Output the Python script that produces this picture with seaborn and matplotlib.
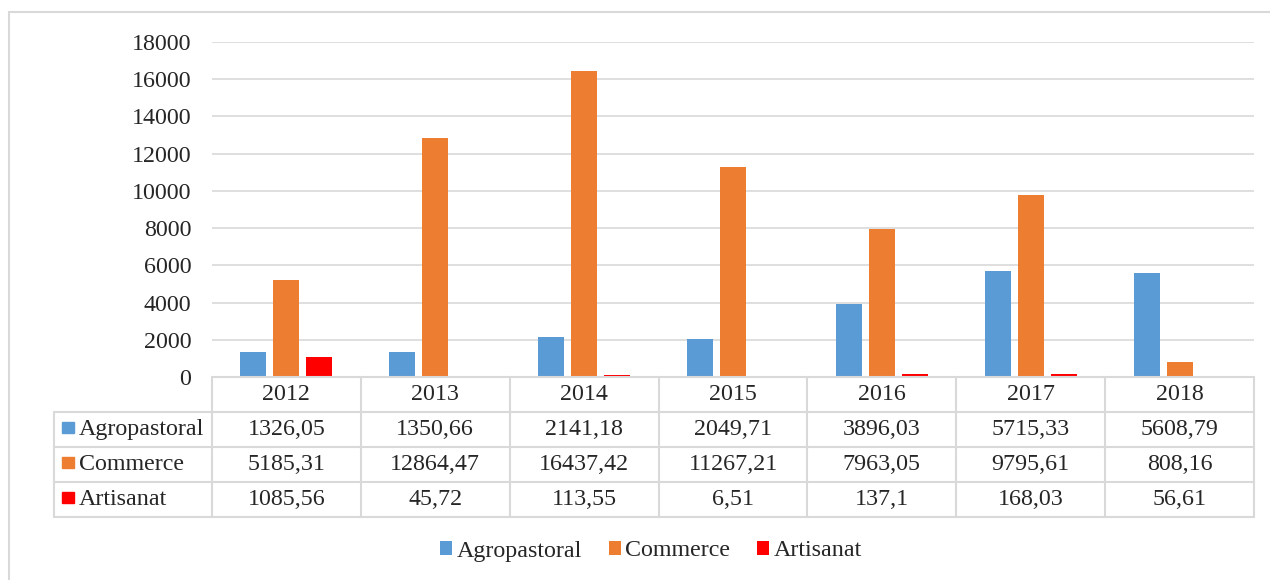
import numpy as np
import pandas as pd
import matplotlib
matplotlib.use('Agg')
import matplotlib.pyplot as plt
import matplotlib.transforms as mtransforms
from matplotlib.patches import Rectangle
import seaborn as sns

# Data
years = ['2012', '2013', '2014', '2015', '2016', '2017', '2018']
agropastoral = [1326.05, 1350.66, 2141.18, 2049.71, 3896.03, 5715.33, 5608.79]
commerce = [5185.31, 12864.47, 16437.42, 11267.21, 7963.05, 9795.61, 808.16]
artisanat = [1085.56, 45.72, 113.55, 6.51, 137.1, 168.03, 56.61]
series_names = ['Agropastoral', 'Commerce', 'Artisanat']
y_ticks = [0, 2000, 4000, 6000, 8000, 10000, 12000, 14000, 16000, 18000]

colors = ['#5B9BD5', '#ED7D31', '#FF0000']
GRID = '#D9D9D9'
W, H = 1270, 580

sns.set_theme(style='white')
plt.rcParams['font.family'] = ['Liberation Serif', 'DejaVu Serif']
FS = 17.3

series_values = [agropastoral, commerce, artisanat]
df = pd.DataFrame({
    'Year': years * 3,
    'Series': [s for s in series_names for _ in years],
    'Value': [v for vals in series_values for v in vals],
})


def fy(px):
    # pixel row (from top) -> figure fraction
    return 1 - px / H


def fx(px):
    return px / W


fig = plt.figure(figsize=(W / 100, H / 100), dpi=100)
ax_left, ax_right, ax_top, ax_bottom = 212, 1254, 42, 377
ax = fig.add_axes([fx(ax_left), fy(ax_bottom), fx(ax_right - ax_left),
                   (ax_bottom - ax_top) / H])

sns.barplot(data=df, x='Year', y='Value', hue='Series', order=years,
            hue_order=series_names, palette=colors, saturation=1,
            width=0.665, gap=0.21, linewidth=0, edgecolor='none', ax=ax)

handles, labels = ax.get_legend_handles_labels()
ax.get_legend().remove()

ax.set_xlim(-0.5, len(years) - 0.5)
ax.set_ylim(0, 18000)
ax.set_yticks(y_ticks)
ax.set_yticklabels([str(t) for t in y_ticks], fontsize=FS)
ax.tick_params(axis='y', length=0, pad=15)
ax.set_xticks([])
ax.set_xlabel('')
ax.set_ylabel('')
ax.yaxis.grid(True, color=GRID, linewidth=1.2)
ax.set_axisbelow(True)
for sp in ax.spines.values():
    sp.set_visible(False)

# data table below the plot
trans = mtransforms.blended_transform_factory(ax.transData, fig.transFigure)
row_edges = [377, 412, 447, 482, 517]
label_left = 54
line_kw = dict(color=GRID, linewidth=1.5, clip_on=False)

# horizontal lines
fig.add_artist(plt.Line2D([fx(ax_left), fx(ax_right)], [fy(row_edges[0])] * 2,
                          transform=fig.transFigure, **line_kw))
for r in row_edges[1:]:
    fig.add_artist(plt.Line2D([fx(label_left), fx(ax_right)], [fy(r)] * 2,
                              transform=fig.transFigure, **line_kw))
# vertical lines
fig.add_artist(plt.Line2D([fx(label_left)] * 2, [fy(row_edges[1]), fy(row_edges[-1])],
                          transform=fig.transFigure, **line_kw))
for i in range(len(years) + 1):
    fig.add_artist(plt.Line2D([i - 0.5] * 2, [fy(row_edges[0]), fy(row_edges[-1])],
                              transform=trans, **line_kw))

# header row (years)
yc = fy((row_edges[0] + row_edges[1]) / 2)
for i, yr in enumerate(years):
    fig.text(i, yc, yr, transform=trans, ha='center', va='center', fontsize=FS)

# series rows
for k, (name, vals) in enumerate(zip(series_names, series_values)):
    mid = (row_edges[k + 1] + row_edges[k + 2]) / 2
    fig.add_artist(Rectangle((fx(62), fy(mid + 3.5)), fx(12), 11 / H,
                             transform=fig.transFigure, color=colors[k]))
    fig.text(fx(79), fy(mid), name, ha='left', va='center', fontsize=FS)
    for i, v in enumerate(vals):
        fig.text(i, fy(mid), str(v).replace('.', ','), transform=trans,
                 ha='center', va='center', fontsize=FS)

# legend
fig.legend(handles, labels, loc='center', bbox_to_anchor=(fx(651), fy(551)),
           ncol=3, frameon=False, fontsize=FS, handlelength=0.5,
           handleheight=0.5, handletextpad=0.2, columnspacing=1.1)

# outer chart border
fig.add_artist(Rectangle((fx(9), -0.1), 1.2, fy(12) + 0.1,
                         transform=fig.transFigure, fill=False,
                         edgecolor=GRID, linewidth=1.5))

fig.savefig('out.png', dpi=100, facecolor='white')
